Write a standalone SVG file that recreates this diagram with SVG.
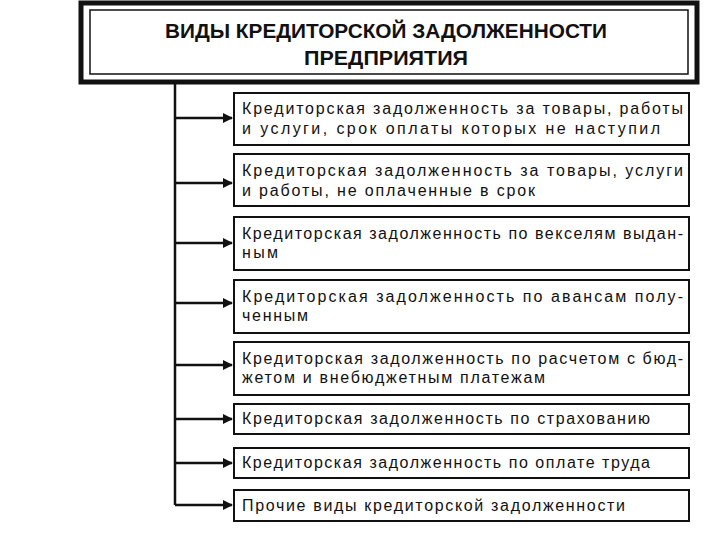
<svg xmlns="http://www.w3.org/2000/svg" width="720" height="540" viewBox="0 0 720 540">
<style>
.b{fill:#fff;stroke:#111;stroke-width:2}
.t{font-family:"Liberation Sans",Arial,sans-serif;font-size:16px;fill:#111}
.h{font-family:"Liberation Sans",Arial,sans-serif;font-size:20px;font-weight:bold;fill:#111;text-anchor:middle}
.c{stroke:#111;stroke-width:2.5;fill:none}
</style>
<defs><marker id="a" markerWidth="10" markerHeight="10" refX="9" refY="5" orient="auto" markerUnits="userSpaceOnUse" viewBox="0 0 10 10"><path d="M0,0L10,5L0,10z" fill="#111"/></marker></defs>
<rect width="720" height="540" fill="#fff"/>
<g id="title">
<rect x="81" y="3" width="616" height="79" fill="#fff" stroke="#111" stroke-width="5"/>
<rect x="90" y="10" width="598" height="64" fill="none" stroke="#111" stroke-width="1.5"/>
<text class="h" x="386" y="38" textLength="442" lengthAdjust="spacingAndGlyphs">ВИДЫ КРЕДИТОРСКОЙ ЗАДОЛЖЕННОСТИ</text>
<text class="h" x="386" y="65" textLength="164" lengthAdjust="spacingAndGlyphs">ПРЕДПРИЯТИЯ</text>
</g>
<g id="connectors">
<path class="c" d="M175,82V505"/>
<path class="c" d="M175,118H232" marker-end="url(#a)"/>
<path class="c" d="M175,183H232" marker-end="url(#a)"/>
<path class="c" d="M175,243H232" marker-end="url(#a)"/>
<path class="c" d="M175,303H232" marker-end="url(#a)"/>
<path class="c" d="M175,365H232" marker-end="url(#a)"/>
<path class="c" d="M175,419H232" marker-end="url(#a)"/>
<path class="c" d="M175,463H232" marker-end="url(#a)"/>
<path class="c" d="M175,505H232" marker-end="url(#a)"/>
</g>
<g id="n1"><rect class="b" x="234" y="93" width="455" height="52"/><text class="t" x="242" y="114" textLength="441">Кредиторская задолженность за товары, работы</text><text class="t" x="242" y="134" textLength="418">и услуги, срок оплаты которых не наступил</text></g>
<g id="n2"><rect class="b" x="234" y="154" width="455" height="52"/><text class="t" x="242" y="176" textLength="441">Кредиторская задолженность за товары, услуги</text><text class="t" x="242" y="196" textLength="293">и работы, не оплаченные в срок</text></g>
<g id="n3"><rect class="b" x="234" y="217" width="455" height="53"/><text class="t" x="242" y="239" textLength="441">Кредиторская задолженность по векселям выдан-</text><text class="t" x="242" y="258" textLength="36">ным</text></g>
<g id="n4"><rect class="b" x="234" y="280" width="455" height="53"/><text class="t" x="242" y="302" textLength="441">Кредиторская задолженность по авансам полу-</text><text class="t" x="242" y="321" textLength="66">ченным</text></g>
<g id="n5"><rect class="b" x="234" y="342" width="455" height="53"/><text class="t" x="242" y="364" textLength="441">Кредиторская задолженность по расчетом с бюд-</text><text class="t" x="242" y="383" textLength="303">жетом и внебюджетным платежам</text></g>
<g id="n6"><rect class="b" x="234" y="404" width="455" height="30"/><text class="t" x="242" y="424" textLength="408">Кредиторская задолженность по страхованию</text></g>
<g id="n7"><rect class="b" x="234" y="448" width="455" height="30"/><text class="t" x="242" y="468" textLength="408">Кредиторская задолженность по оплате труда</text></g>
<g id="n8"><rect class="b" x="234" y="490" width="455" height="31"/><text class="t" x="242" y="511" textLength="383">Прочие виды кредиторской задолженности</text></g>
</svg>
